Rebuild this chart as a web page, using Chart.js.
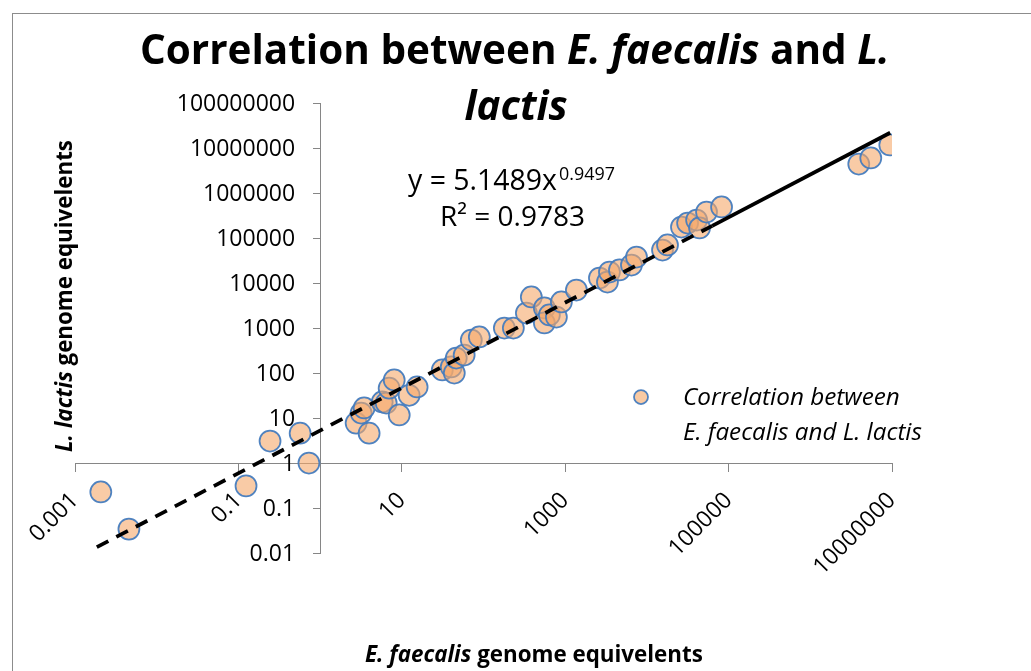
<!DOCTYPE html>
<html><head><meta charset="utf-8">
<script src="https://cdn.jsdelivr.net/npm/chart.js@4/dist/chart.umd.min.js"></script>
<style>html,body{margin:0;padding:0;background:#fff;}</style>
</head><body>
<canvas id="c" width="1031" height="671"></canvas>
<script>
// E. faecalis genome equivalents (x) and L. lactis genome equivalents (y)
const faecalis = [0.00207,0.00457,0.124,0.244,0.57,0.73,2.76,3.18,3.46,3.98,5.75,6.44,7.0,8.07,9.3,12.3,15.4,31.3,40.3,43.9,46.4,58,70.9,88.9,180,232,335,385,556,556,640,780,898,1371,2625,3289,3481,4615,6470,7460,15530,17870,26500,31500,40600,44100,53700,82000,3920000,5500000,9400000];
const lactis   = [0.227,0.034,0.31,3.08,4.6,1.0,7.7,12.9,16.7,4.6,22.7,21.5,46,70,11.7,32,49,117,136,100,215,251,541,631,1000,1000,2154,4887,2783,1292,1945,1755,3783,6985,12900,10500,17540,19450,25100,37800,54100,69900,175000,215000,251000,167000,378000,489000,4410000,6000000,11700000];
// power trendline y = 5.1489x^0.9497 (dashed part, then solid part)
const trendX = [0.00185, 63000, 9500000];
const trendY = [0.0135, 186000, 21800000];
const xTicks = [0.001,0.1,10,1000,100000,10000000];
const xTickLabels = ['0.001','0.1','10','1000','100000','10000000'];
const yTicks = [0.01,0.1,1,10,100,1000,10000,100000,1000000,10000000,100000000];
const yTickLabels = ['0.01','0.1','1','10','100','1000','10000','100000','1000000','10000000','100000000'];
const seriesName = 'Correlation between E. faecalis and L. lactis';

const FONT = '"Open Sans", "Liberation Sans", sans-serif';
const AXIS_GREY = '#868686';
const FILL = 'rgba(245,168,106,0.6)';
const EDGE = 'rgba(70,124,190,0.95)';

function pts(xs, ys){ return xs.map((x,i)=>({x:x, y:ys[i]})); }

function drawRich(ctx, parts, x, y, targetW, size, align){
  let w = 0;
  parts.forEach(p=>{ ctx.font = p.style + ' ' + size + 'px ' + FONT; w += ctx.measureText(p.t).width; });
  if (targetW) { size = size * targetW / w; w = targetW; }
  let cx = align === 'center' ? x - w/2 : (align === 'right' ? x - w : x);
  ctx.textAlign = 'left';
  ctx.textBaseline = 'alphabetic';
  parts.forEach(p=>{ ctx.font = p.style + ' ' + size + 'px ' + FONT; ctx.fillText(p.t, cx, y); cx += ctx.measureText(p.t).width; });
  return size;
}

const decor = {
  id: 'decor',
  beforeDraw(chart){
    const ctx = chart.ctx;
    ctx.save();
    ctx.fillStyle = '#fff';
    ctx.fillRect(0,0,chart.width,chart.height);
    ctx.strokeStyle = '#8c8c8c';
    ctx.lineWidth = 1;
    ctx.strokeRect(12.5, 13.5, chart.width + 10, chart.height + 10);
    ctx.restore();
  },
  afterDraw(chart){
    const ctx = chart.ctx;
    const xs = chart.scales.x, ys = chart.scales.y;
    ctx.save();
    ctx.fillStyle = '#000';
    // y tick labels, placed left of the y axis (which crosses at x = 1)
    const axisX = xs.getPixelForValue(1);
    ctx.font = '23px ' + FONT;
    ctx.textAlign = 'right';
    ctx.textBaseline = 'middle';
    yTicks.forEach((v,i)=>{ ctx.fillText(yTickLabels[i], axisX - 25, ys.getPixelForValue(v) + 1); });
    // title
    drawRich(ctx, [{t:'Correlation between ', style:'bold'},{t:'E. faecalis', style:'italic bold'},{t:' and ', style:'bold'},{t:'L.', style:'italic bold'}], 515, 64, 750, 36, 'center');
    drawRich(ctx, [{t:'lactis', style:'italic bold'}], 516, 120, 103, 36, 'center');
    // x axis title
    drawRich(ctx, [{t:'E. faecalis', style:'italic bold'},{t:' genome equivelents', style:'bold'}], 534, 662, 338, 20, 'center');
    // y axis title
    ctx.save();
    ctx.translate(72, 296);
    ctx.rotate(-Math.PI/2);
    drawRich(ctx, [{t:'L. lactis', style:'italic bold'},{t:' genome equivelents', style:'bold'}], 0, 0, 312, 20, 'center');
    ctx.restore();
    // trendline equation
    drawRich(ctx, [{t:'y = 5.1489x', style:'normal'}], 408, 190, 149, 22, 'left');
    drawRich(ctx, [{t:'0.9497', style:'normal'}], 559, 180, 56, 15, 'left');
    drawRich(ctx, [{t:'R² = 0.9783', style:'normal'}], 440, 226, 145, 22, 'left');
    // legend
    ctx.beginPath();
    ctx.arc(641, 397, 7, 0, Math.PI*2);
    ctx.fillStyle = 'rgb(249,202,163)';
    ctx.fill();
    ctx.lineWidth = 1.75;
    ctx.strokeStyle = EDGE;
    ctx.stroke();
    ctx.fillStyle = '#000';
    drawRich(ctx, [{t:'Correlation between', style:'italic'}], 683, 405, 217, 20, 'left');
    drawRich(ctx, [{t:'E. faecalis and L. lactis', style:'italic'}], 683, 440, 239, 20, 'left');
    ctx.restore();
  }
};

new Chart(document.getElementById('c'), {
  type: 'scatter',
  data: {
    datasets: [
      { label: 'trend dashed', data: pts(trendX.slice(0,2), trendY.slice(0,2)), showLine: true, borderColor: '#000', borderWidth: 3.75, borderDash: [13,9], pointRadius: 0, order: 1 },
      { label: 'trend solid', data: pts(trendX.slice(1), trendY.slice(1)), showLine: true, borderColor: '#000', borderWidth: 3.75, pointRadius: 0, order: 1 },
      { label: seriesName, data: pts(faecalis, lactis), showLine: false, pointRadius: 10.5, pointHoverRadius: 10.5, backgroundColor: FILL, borderColor: EDGE, borderWidth: 1.75, order: 2 }
    ]
  },
  options: {
    responsive: false,
    animation: false,
    events: [],
    layout: { padding: { left: 75, right: 139, top: 103, bottom: 118 } },
    plugins: { legend: { display: false }, title: { display: false }, tooltip: { enabled: false } },
    scales: {
      x: {
        type: 'logarithmic', min: 0.001, max: 10000000,
        position: { y: 1 },
        afterBuildTicks: s => { s.ticks = xTicks.map(v => ({ value: v })); },
        afterFit: s => { s.height = 0; },
        ticks: { autoSkip: false, minRotation: 45, maxRotation: 45, padding: 16, color: '#000',
                 font: { family: FONT, size: 23 }, callback: (v, i) => xTickLabels[i] },
        grid: { drawOnChartArea: false, drawTicks: true, tickLength: 8, color: AXIS_GREY, lineWidth: 1 },
        border: { display: true, color: AXIS_GREY, width: 1 }
      },
      y: {
        type: 'logarithmic', min: 0.01, max: 100000000,
        position: { x: 1 },
        afterBuildTicks: s => { s.ticks = yTicks.map(v => ({ value: v })); },
        afterFit: s => { s.width = 0; },
        ticks: { display: false },
        grid: { drawOnChartArea: false, drawTicks: true, tickLength: 7, color: AXIS_GREY, lineWidth: 1 },
        border: { display: true, color: AXIS_GREY, width: 1 }
      }
    }
  },
  plugins: [decor]
});
</script>
</body></html>
